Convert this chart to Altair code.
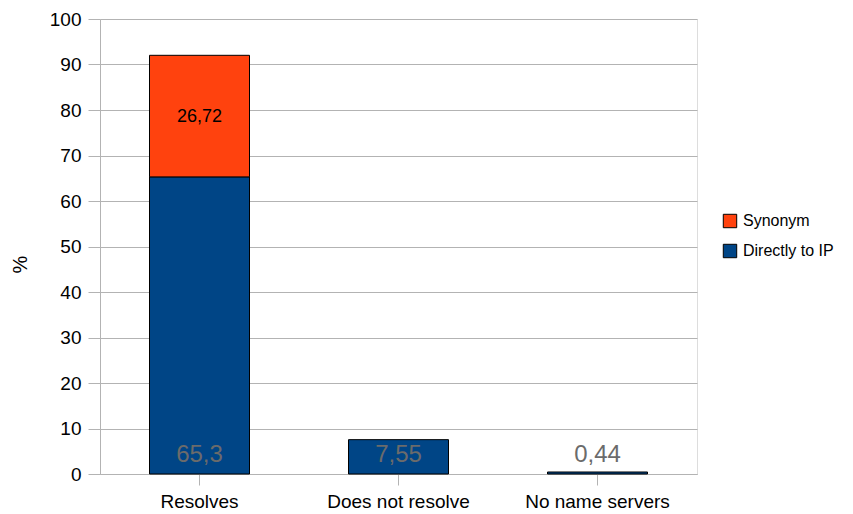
import altair as alt
import pandas as pd

categories = ["Resolves", "Does not resolve", "No name servers"]
directly_to_ip = [65.3, 7.55, 0.44]
synonym = [26.72, 0.0, 0.0]
directly_labels = ["65,3", "7,55", "0,44"]
synonym_labels = ["26,72", "", ""]

series_names = ["Synonym", "Directly to IP"]
colors = ["#FF420E", "#004586"]

rows = []
for c, d, s in zip(categories, directly_to_ip, synonym):
    rows.append({"cat": c, "series": "Directly to IP", "value": d, "ord": 0})
    if s > 0:
        rows.append({"cat": c, "series": "Synonym", "value": s, "ord": 1})
df = pd.DataFrame(rows)

lab_d = pd.DataFrame({"cat": categories, "label": directly_labels, "base": [0] * 3})
lab_s = pd.DataFrame({
    "cat": categories,
    "label": synonym_labels,
    "mid": [d + s / 2 for d, s in zip(directly_to_ip, synonym)],
})
lab_s = lab_s[lab_s["label"] != ""]

font = "Liberation Sans"
xenc = alt.X("cat:N", sort=categories, title=None,
             scale=alt.Scale(paddingInner=0.5, paddingOuter=0.25),
             axis=alt.Axis(labelAngle=0, labelFontSize=19, labelColor="#000",
                           labelFont=font, tickSize=11, tickColor="#b3b3b3",
                           domainColor="#b3b3b3", labelPadding=7, labelFontWeight="normal"))

bars = alt.Chart(df).mark_bar(size=100, stroke="#000", strokeWidth=1).encode(
    x=xenc,
    y=alt.Y("sum(value):Q", stack="zero", title="%",
            scale=alt.Scale(domain=[0, 100], nice=False),
            axis=alt.Axis(values=list(range(0, 101, 10)), labelFontSize=19,
                          labelColor="#000", labelFont=font, tickSize=12,
                          tickColor="#b3b3b3", domainColor="#b3b3b3",
                          gridColor="#b3b3b3", labelPadding=7,
                          titleFontSize=20, titleFont=font, titleFontWeight="normal",
                          titleColor="#000", titleX=-70, titleY=245,
                          titleBaseline="bottom", titleAngle=270)),
    color=alt.Color("series:N", scale=alt.Scale(domain=series_names, range=colors),
                    legend=alt.Legend(title=None, orient="none", legendX=622, legendY=194,
                                      symbolType="square", symbolSize=180,
                                      symbolStrokeColor="#000", symbolStrokeWidth=1,
                                      labelFontSize=16, labelFont=font, labelColor="#000",
                                      rowPadding=12, labelOffset=5)),
    order=alt.Order("ord:Q"),
)

t1 = alt.Chart(lab_d).mark_text(fontSize=24, font=font, color="#6b6b6b",
                                baseline="alphabetic", dy=-12).encode(
    x=alt.X("cat:N", sort=categories), y=alt.Y("base:Q"), text="label:N")

t2 = alt.Chart(lab_s).mark_text(fontSize=18, font=font, color="#000",
                                baseline="middle", dy=1).encode(
    x=alt.X("cat:N", sort=categories), y=alt.Y("mid:Q"), text="label:N")

chart = alt.layer(bars, t1, t2).properties(
    width=597, height=455,
    autosize=alt.AutoSizeParams(type="none"),
    padding={"left": 92, "top": 11, "right": 148, "bottom": 40},
).configure_view(stroke="#b3b3b3").configure(background="white")

chart.save("out.html", embed_options={"renderer": "svg", "actions": False})
